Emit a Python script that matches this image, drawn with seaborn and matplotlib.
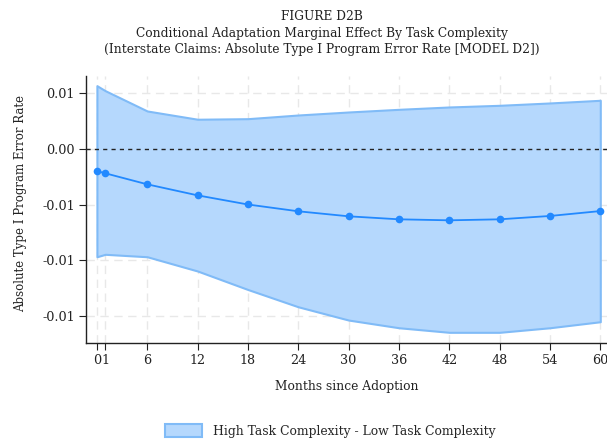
import numpy as np
import pandas as pd
import matplotlib
matplotlib.use("Agg")
import matplotlib.pyplot as plt
import seaborn as sns
from matplotlib.patches import Patch
from matplotlib.ticker import FormatStrFormatter

# Months since adoption and the marginal effect with its confidence band
months = [0, 1, 6, 12, 18, 24, 30, 36, 42, 48, 54, 60]
effect = [-0.00198, -0.00218, -0.00317, -0.00416, -0.00498, -0.00559,
          -0.00604, -0.00631, -0.00640, -0.00631, -0.00601, -0.00557]
upper = [0.00568, 0.00523, 0.00341, 0.00267, 0.00272, 0.00305,
         0.00332, 0.00356, 0.00377, 0.00392, 0.00413, 0.00437]
lower = [-0.00967, -0.00945, -0.00967, -0.01095, -0.01261, -0.01416,
         -0.01535, -0.01604, -0.01645, -0.01645, -0.01604, -0.01550]
y_ticks = [0.005, 0.0, -0.005, -0.010, -0.015]

title_lines = ["FIGURE D2B",
               "Conditional Adaptation Marginal Effect By Task Complexity",
               "(Interstate Claims: Absolute Type I Program Error Rate [MODEL D2])"]
legend_label = "High Task Complexity - Low Task Complexity"

df = pd.DataFrame({"month": months, "effect": effect, "upper": upper, "lower": lower})

sns.set_style("white")
plt.rcParams["font.family"] = ["DejaVu Serif"]

fig = plt.figure(figsize=(6.07, 4.46), dpi=100)
ax = fig.add_axes([0.1417, 0.2309, 0.8583, 0.5987])

fill_color = "#b5d8fd"
edge_color = "#80bbf7"
line_color = "#2289ff"

ax.fill_between(df["month"], df["lower"], df["upper"], facecolor=fill_color,
                edgecolor=edge_color, linewidth=1.5, zorder=2)
sns.lineplot(data=df, x="month", y="effect", ax=ax, color=line_color,
             marker="o", markersize=5.5, markeredgewidth=0, linewidth=1.3, zorder=4)
ax.axhline(0, color="#222222", linestyle=(0, (3, 3)), linewidth=1.0, zorder=3)

ax.set_xlim(-1.3, 60.8)
ax.set_ylim(-0.01741, 0.00655)
ax.set_xticks(months)
ax.set_xticklabels(["0", "1"] + [str(m) for m in months[2:]])
ax.set_yticks(y_ticks)
ax.yaxis.set_major_formatter(FormatStrFormatter("%.2f"))

ax.grid(True, color="#e8e8e8", linestyle=(0, (6, 4)), linewidth=1.0, zorder=0)
ax.set_axisbelow(True)
for side in ["top", "right"]:
    ax.spines[side].set_visible(False)
for side in ["left", "bottom"]:
    ax.spines[side].set_color("#222222")
    ax.spines[side].set_linewidth(1.0)
ax.tick_params(axis="both", which="both", direction="out", length=5, width=0.8,
               color="#222222", labelsize=9.2, labelcolor="#222222", pad=3,
               bottom=True, left=True)

ax.set_xlabel("Months since Adoption", fontsize=8.8, color="#222222", labelpad=9)
ax.set_ylabel("Absolute Type I Program Error Rate", fontsize=8.5, color="#222222")
ax.yaxis.set_label_coords(-0.113, 0.522)

for i, line in enumerate(title_lines):
    fig.text(0.53, 1 - (16 + 17 * i) / 446, line, ha="center", va="center",
             fontsize=8.8, color="#222222")

handle = Patch(facecolor=fill_color, edgecolor=edge_color, linewidth=1.5)
fig.legend([handle], [legend_label], loc="center", bbox_to_anchor=(0.5445, 1 - 431 / 446),
           frameon=False, fontsize=8.9, handlelength=3.0, handleheight=1.15,
           handletextpad=0.9)

fig.savefig("out.png", dpi=100)
